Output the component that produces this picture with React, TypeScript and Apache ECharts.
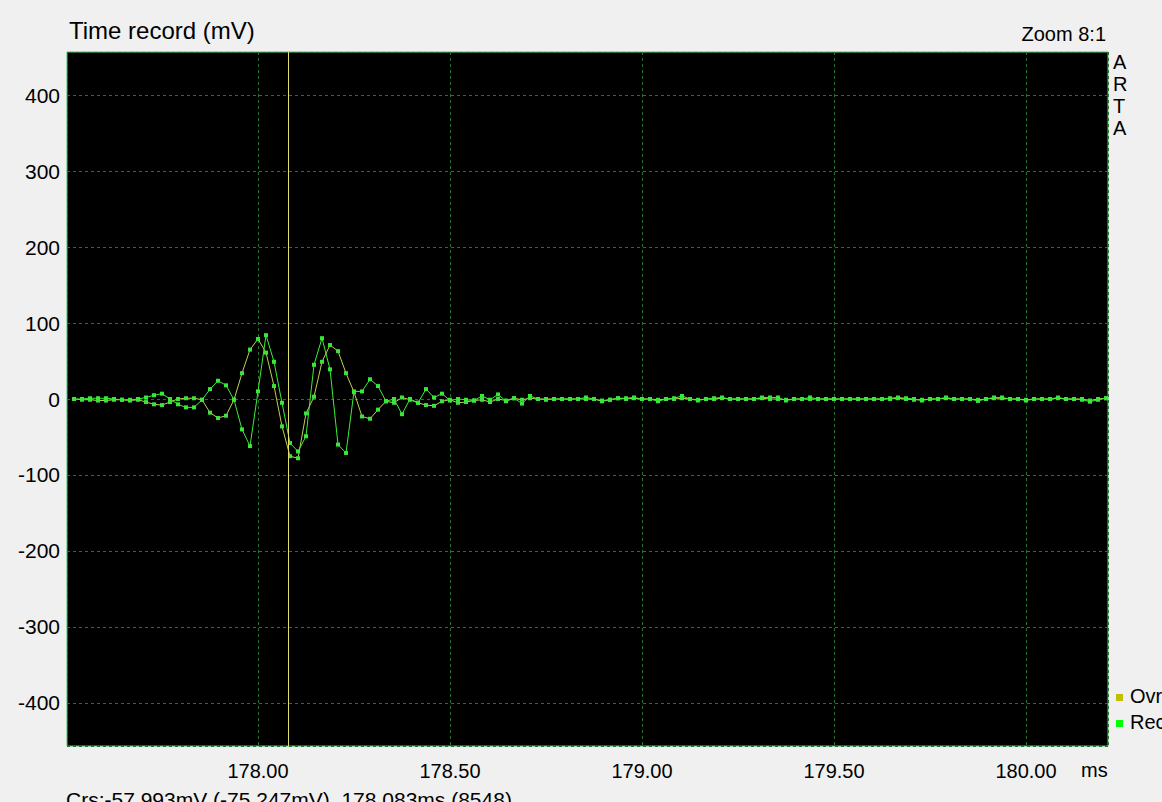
import React, { useEffect, useRef } from "react";
import * as echarts from "echarts";

// sample numbering: first visible sample and sample rate (kHz) -> time in ms
const SAMPLE_START = 8521;
const SAMPLE_RATE_KHZ = 48;

// Rec (current record), mV per sample
const recValues: number[] = [
  0, 0, 1, 1, 1, 0, -1, -1, 0,
  2, 5, 7, 0, -7, -11, -11, -1, 13, 24, 18, -1,
  -40, -62, 10, 84, 49, -5, -57.993, -69, -49, 45, 80, 39, -60, -71, 10, 10, 26, 17, -3,
  0, -20, 0, -5, 13, 2, 7, -2, 0,
  -1, -2, 4, -1, 6, -3, 1, -6, 4, 0,
  -1, 0, 0, 0, 0, 2, 0, -2, -1, 1,
  1, 2, 0, 0, -3, 0, 1, 4, 0, -2,
  0, 1, 2, 0, 0, 0, 0, 2, 2, 2,
  -2, 0, 0, 2, 0, 0, 0, 0, 0, 0,
  0, 0, 0, 1, 2, 1, 0, -2, 0, 0,
  2, 0, 0, 0, -2.5, 0, 2, 2, 0, 0,
  -2, 0, 0, 0, 2, 0, 0, -1, -3.5, -1, 1,
];

// Ovr (overlay), mV per sample
const ovrValues: number[] = [
  0, -1, -1, -2, -2, -1, -1, -2, -1,
  -4, -7, -8, -4, 0, 1, 1, -1, -18, -25, -22, -1,
  34, 65, 79, 61, 17, -36, -75.247, -78, -19, 3, 49, 71, 63, 34, 9, -23, -26, -14, -3,
  -5, 2, -1, -5, -8, -9, -3, -1, -5,
  -4, -2, -1, -4, 0, -2, 1, -1, 1, 0,
  0, 0, 0, 0, 0, 0, 0, -3, -1, 1,
  0, 1, 0, 0, -1, 0, 0, 1, 0, -1,
  0, 0, 1, 0, 0, 0, 0, 1, 0, 0,
  -1, 0, 0, 0, 0, 0, 0, 0, 0, 0,
  0, 0, 0, 0, 1, 0, -1, -1, 0, 0,
  1, 0, 0, 0, -1, 0, 1, 1, 0, 0,
  -1, 0, 0, 0, 1, 0, 0, 0, -2, 0, 1,
];

const X_MIN = 177.5026;
const X_MAX = 180.2135;
const Y_MIN = -456.6;
const Y_MAX = 456.6;
const CURSOR_MS = 178.0833;
const TITLE = "Time record (mV)";
const ZOOM_TEXT = "Zoom 8:1";
const STATUS = "Crs:-57.993mV (-75.247mV), 178.083ms (8548)";

const FONT = "'Liberation Sans', Arial, sans-serif";

export default function App() {
  const ref = useRef<HTMLDivElement>(null);
  useEffect(() => {
    document.body.style.margin = "0";
    const chart = echarts.init(ref.current!, null, { renderer: "svg" });
    const toPairs = (vals: number[]) =>
      vals.map((v, i) => [(SAMPLE_START + i) / SAMPLE_RATE_KHZ, v]);
    const option: any = {
      animation: false,
      backgroundColor: "#f0f0f0",
      textStyle: { fontFamily: FONT },
      grid: {
        left: 67,
        top: 52,
        right: 54,
        bottom: 56,
        show: true,
        backgroundColor: "#000000",
        borderColor: "#46c46e",
        borderWidth: 1,
      },
      xAxis: {
        type: "value",
        min: X_MIN,
        max: X_MAX,
        splitNumber: 5,
        axisLine: { show: false },
        axisTick: { show: false },
        axisLabel: {
          showMinLabel: false,
          showMaxLabel: false,
          formatter: (v: number) => v.toFixed(2),
          fontSize: 20,
          color: "#000",
          margin: 15,
          fontFamily: FONT,
        },
        splitLine: { lineStyle: { color: "#2e6e2e", type: [3, 3], width: 1 } },
      },
      yAxis: {
        type: "value",
        min: Y_MIN,
        max: Y_MAX,
        splitNumber: 9,
        axisLine: { show: false },
        axisTick: { show: false },
        axisLabel: {
          showMinLabel: false,
          showMaxLabel: false,
          fontSize: 21,
          color: "#000",
          margin: 7,
          fontFamily: FONT,
        },
        splitLine: { lineStyle: { color: "#2e6e2e", type: [3, 3], width: 1 } },
      },
      series: [
        {
          name: "Ovr",
          type: "line",
          data: toPairs(ovrValues),
          symbol: "rect",
          symbolSize: 4,
          showAllSymbol: true,
          lineStyle: { color: "#c0d050", width: 1 },
          itemStyle: { color: "#3ee03e" },
          emphasis: { disabled: true },
        },
        {
          name: "Rec",
          type: "line",
          data: toPairs(recValues),
          symbol: "rect",
          symbolSize: 4,
          showAllSymbol: true,
          lineStyle: { color: "#38f038", width: 1 },
          itemStyle: { color: "#38e838" },
          emphasis: { disabled: true },
          markLine: {
            silent: true,
            symbol: "none",
            label: { show: false },
            lineStyle: { color: "#e0e070", type: "solid", width: 1 },
            data: [{ xAxis: CURSOR_MS }],
          },
        },
      ],
      graphic: [
        { type: "text", left: 69, top: 18, style: { text: TITLE, fontSize: 24, fill: "#000", fontFamily: FONT } },
        { type: "text", right: 56, top: 24, style: { text: ZOOM_TEXT, fontSize: 20, fill: "#000", fontFamily: FONT } },
        { type: "text", left: 1113, top: 51, style: { text: "A\nR\nT\nA", fontSize: 20, lineHeight: 22, fill: "#000", fontFamily: FONT } },
        { type: "rect", shape: { x: 1116, y: 694, width: 7, height: 7 }, style: { fill: "#c0c000" } },
        { type: "text", left: 1130, top: 686, style: { text: "Ovr", fontSize: 20, fill: "#000", fontFamily: FONT } },
        { type: "rect", shape: { x: 1116, y: 720, width: 7, height: 7 }, style: { fill: "#00ff00" } },
        { type: "text", left: 1130, top: 712, style: { text: "Rec", fontSize: 20, fill: "#000", fontFamily: FONT } },
        { type: "text", left: 1081, top: 760, style: { text: "ms", fontSize: 20, fill: "#000", fontFamily: FONT } },
        { type: "text", left: 66, top: 789, style: { text: STATUS, fontSize: 21, fill: "#000", fontFamily: FONT } },
      ],
    };
    chart.setOption(option);
    return () => chart.dispose();
  }, []);
  return <div ref={ref} style={{ width: 1162, height: 802 }} />;
}
